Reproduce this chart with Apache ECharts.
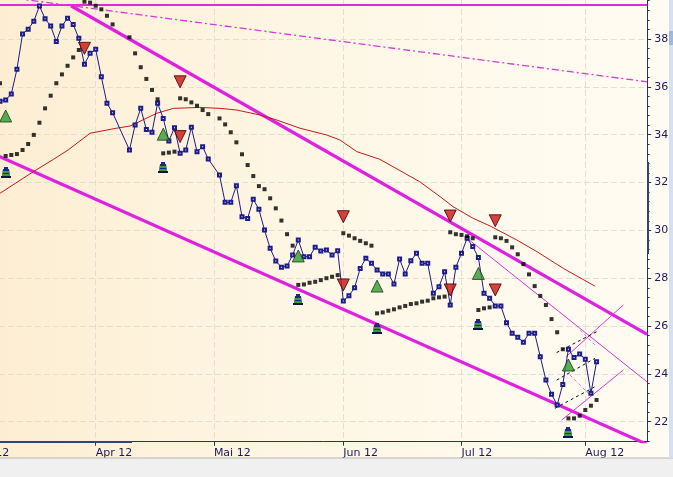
<!DOCTYPE html>
<html><head><meta charset="utf-8">
<script src="https://cdn.jsdelivr.net/npm/echarts@6/dist/echarts.min.js"></script>
<style>html,body{margin:0;padding:0;background:#fff;}#c{width:673px;height:477px;}</style>
</head><body><div id="c"></div>
<script>
// x = weekday index relative to Mon 2 Apr 2012
const monthTicks = [-22, 0, 21, 44, 65, 87];
const monthLabels = ['Mrz 12', 'Apr 12', 'Mai 12', 'Jun 12', 'Jul 12', 'Aug 12'];
const yTicks = [22, 24, 26, 28, 30, 32, 34, 36, 38];

const priceStart = -18;
const price = [35.2, 35.40, 35.45, 35.70, 36.73, 38.21, 38.41, 38.74, 39.38, 38.85, 38.54, 37.89, 38.54, 38.87, 38.61, 38.03, 36.94, 37.40,
  37.57, 36.42, 35.31, 34.92, null, null, 33.36, 34.40, 35.10, 34.22, 34.10, 35.31, 34.68, 33.74, 34.29, 33.22, 33.36, 34.31, 33.29, 33.50, 32.98, null,
  32.31, 31.17, 31.17, 31.87, 30.57, 30.50, 31.30, 30.88, 30.01, 29.25, 28.72, 28.46, 28.51, 28.97, 29.60, 28.90, 28.90, 29.29, 29.14, 29.18, 28.97, 29.15,
  27.05, 27.27, 27.60, 28.41, 28.83, 28.62, 28.34, 28.18, 28.18, 27.76, 28.80, 28.18, 28.73, 29.04, 28.62, 28.62, 27.37, 27.64, 28.27, 26.88, 28.46,
  29.04, 29.67, 29.32, 28.87, 27.37, 27.16, 26.84, 26.84, 26.14, 25.70, 25.53, 25.32, 25.70, 25.70, 24.72, 23.74, 23.15, 22.70, 23.56, 25.03, 24.68, 24.83,
  24.61, 23.19, 24.51];

const sarStart = -17;
const sar = [36.15, 33.11, 33.15, 33.19, 33.36, 33.61, 33.99, 34.50, 35.10, 35.63, 36.15, 36.52, 36.88, 37.23, 37.54, 39.56, 39.52,
  39.39, 39.24, 38.97, 38.61, null, null, 38.07, 37.40, 36.82, 36.33, 35.87, 35.48, 33.22, 33.25, 33.29, 35.52, 35.48, 35.35, 35.21, 35.03, 34.86, null,
  34.68, 34.43, 34.10, 33.68, 33.18, 32.73, 32.27, 31.85, 31.72, 31.34, 30.92, 30.41, 29.84, 29.36, 27.72, 27.74, 27.81, 27.85, 27.92, 28.00, 28.06, 28.13,
  29.88, 29.78, 29.67, 29.56, 29.46, 29.36, 26.53, 26.57, 26.64, 26.70, 26.78, 26.84, 26.92, 26.95, 27.02, 27.06, 27.16, 27.20, 27.23, 29.92, 29.84,
  29.81, 29.75, 29.67, 26.67, 26.74, 26.78, 29.71, 29.67, 29.56, 29.29, 29.00, 28.59, 28.16, 27.67, 27.26, 26.88, 26.29, 25.74, 25.03, 22.14, 22.14, 22.25,
  22.49, 22.67, 22.91];

const maPoints = [[-17, 31.55], [-11.1, 32.45], [-7.5, 32.97], [-4.9, 33.36], [-1, 34.06], [3.7, 34.27], [6.1, 34.36], [10.8, 34.89], [13.8, 35.10],
  [18.5, 35.14], [22.1, 35.10], [25.1, 35.03], [29.2, 34.82], [32.2, 34.61], [36.3, 34.27], [41, 33.99], [43.4, 33.78], [46.4, 33.29], [50.5, 32.97],
  [57.6, 32.03], [61.2, 31.41], [63.5, 30.99], [67.1, 30.50], [70.1, 30.18], [74.8, 29.60], [78.4, 29.11], [83.1, 28.41], [88.7, 27.67]];

const buySignals = [[-16, 34.78], [12, 34.02], [36, 28.93], [50, 27.67], [68, 28.20], [84, 24.37]];
const sellSignals = [[-2, 37.61], [15, 36.21], [15, 33.92], [44, 30.57], [44, 27.72], [63, 30.60], [63, 27.51], [71, 30.40], [71, 27.51]];
const stopMarks = [[-16, 32.41], [12, 32.59], [36, 27.09], [50, 25.86], [68, 26.04], [84, 21.52]];

const resistanceLevel = [[-22, 39.42], [98, 39.42]];
const longTrend = [[-22, 39.94], [98, 36.21]];
const upperChannel = [[-4.39, 39.39], [98, 25.65]];
const lowerChannel = [[-22, 33.60], [98, 21.05]];
const fanDown = [[66, 29.67], [98, 23.66]];
const fanUp1 = [[83.56, 24.71], [93.75, 26.88]];
const fanUp2 = [[82.8, 22.07], [93.75, 24.16]];
const miniUpper = [[81.9, 24.89], [89.0, 25.76]];
const miniMid = [[81.9, 23.74], [88.7, 24.65]];
const miniLower = [[81.6, 22.56], [88.7, 23.46]];
const pinkA = [[86.1, 25.83], [88.7, 25.21]];
const pinkB = [[84.3, 23.95], [87.8, 23.12]];

const Y_MIN = 21.165, Y_MAX = 39.63;
const minorTicks = [];
for (let i = 212; i <= 396; i += 4) { if (i % 20 !== 0) minorTicks.push(i / 10); }

const priceData = price.map((v, i) => [priceStart + i, v]);
const sarData = sar.map((v, i) => v == null ? null : [sarStart + i, v]).filter(d => d);

const axisColor = '#22336e';
const font = 'DejaVu Sans';

function seg(data, color, width, type, z) {
  return { type: 'line', data: data, showSymbol: false, symbol: 'none', silent: true, z: z || 1,
    lineStyle: { color: color, width: width, type: type || 'solid' } };
}

const chart = echarts.init(document.getElementById('c'));
chart.setOption({
  animation: false,
  backgroundColor: { type: 'linear', x: 0, y: 0, x2: 1, y2: 0,
    colorStops: [{ offset: 0, color: '#fdeed3' }, { offset: 0.5, color: '#fef7e6' }, { offset: 1, color: '#fffcf3' }] },
  grid: { left: -28.1, right: 25.8, top: 0, bottom: 35.3, containLabel: false, outerBoundsMode: 'none' },
  xAxis: {
    type: 'value', min: -22, max: 98,
    axisLine: { onZero: false, lineStyle: { color: axisColor, width: 1 } },
    axisTick: { customValues: monthTicks, length: 4, lineStyle: { color: axisColor } },
    axisLabel: { customValues: monthTicks, formatter: v => monthLabels[monthTicks.indexOf(v)] || '',
      align: 'left', color: '#1a1a5a', fontFamily: font, fontSize: 11, margin: 6 },
    splitLine: { show: true, lineStyle: { color: '#e3ded2', type: [6, 3] } }
  },
  yAxis: [{
    type: 'value', position: 'right', min: Y_MIN, max: Y_MAX,
    axisLine: { show: true, onZero: false, lineStyle: { color: axisColor } },
    axisTick: { show: true, customValues: yTicks, length: 4, lineStyle: { color: axisColor } },
    axisLabel: { customValues: yTicks, color: '#1a1a5a', fontFamily: font, fontSize: 11, margin: 7 },
    splitLine: { show: true, lineStyle: { color: '#e3ded2', type: [6, 3] } }
  }, {
    type: 'value', position: 'right', min: Y_MIN, max: Y_MAX,
    axisLine: { show: false, onZero: false },
    axisTick: { show: true, customValues: minorTicks, length: 2.5, lineStyle: { color: axisColor } },
    axisLabel: { show: false }, splitLine: { show: false }
  }],
  graphic: [
    { type: 'rect', shape: { x: 0, y: 458, width: 673, height: 19 }, style: { fill: '#f0f0f0' }, z: 10 },
    { type: 'line', shape: { x1: 0, y1: 458, x2: 673, y2: 458 }, style: { stroke: '#b5b5b5', lineWidth: 1 }, z: 10 },
    { type: 'rect', shape: { x: 669, y: 0, width: 4, height: 458 }, style: { fill: '#d3e1f3' }, z: 10 },
    { type: 'rect', shape: { x: 669, y: 31, width: 4, height: 14 }, style: { fill: '#9cb9e4' }, z: 10 },
    { type: 'line', shape: { x1: 0, y1: 442, x2: 132, y2: 442 }, style: { stroke: '#2a4486', lineWidth: 2 }, z: 10 },
    { type: 'line', shape: { x1: 648, y1: 162, x2: 648, y2: 254 }, style: { stroke: '#2a4486', lineWidth: 2 }, z: 10 }
  ],
  series: [
    seg(resistanceLevel, '#e028e0', 2),
    seg(longTrend, '#d23cd2', 1.3, [7, 3, 2, 3]),
    seg(upperChannel, '#e020e0', 3.2),
    seg(lowerChannel, '#e020e0', 3.2),
    seg(fanDown, '#dd33dd', 1),
    seg(fanUp1, '#dd33dd', 1),
    seg(fanUp2, '#dd33dd', 1),
    seg(pinkA, '#e070e0', 1, [3, 3]),
    seg(pinkB, '#e070e0', 1, [3, 3]),
    seg(miniUpper, '#111', 1, [3, 3]),
    seg(miniMid, '#111', 1, [3, 3]),
    seg(miniLower, '#111', 1, [3, 3]),
    { type: 'line', data: maPoints, showSymbol: false, symbol: 'none', z: 3, silent: true,
      lineStyle: { color: '#c41a1a', width: 1 } },
    { type: 'line', data: priceData, symbol: 'emptyRect', symbolSize: 3, showAllSymbol: true, connectNulls: true, z: 4, silent: true,
      lineStyle: { color: '#1c1c8a', width: 1 }, itemStyle: { color: '#1c1c8a', borderWidth: 1 } },
    { type: 'scatter', data: sarData, symbol: 'rect', symbolSize: 4, z: 5, silent: true, itemStyle: { color: '#000' } },
    { type: 'scatter', data: buySignals, symbol: 'triangle', symbolSize: [12, 12], z: 6, silent: true,
      itemStyle: { color: '#2f9a2f', borderColor: '#1b3b1b', borderWidth: 1 } },
    { type: 'scatter', data: sellSignals, symbol: 'triangle', symbolRotate: 180, symbolSize: [12, 12], z: 6, silent: true,
      itemStyle: { color: '#cc1111', borderColor: '#3a0000', borderWidth: 1 } },
    { type: 'custom', data: stopMarks, z: 6, silent: true,
      renderItem: function (params, api) {
        const p = api.coord([api.value(0), api.value(1)]);
        const x = Math.round(p[0]), y = Math.round(p[1]);
        const navy = '#1a2a80', green = '#3c9a3c';
        return { type: 'group', children: [
          { type: 'rect', shape: { x: x - 2, y: y - 6, width: 4, height: 2 }, style: { fill: navy } },
          { type: 'polygon', shape: { points: [[x - 3, y - 4], [x + 3, y - 4], [x + 4, y + 3], [x - 4, y + 3]] }, style: { fill: navy } },
          { type: 'rect', shape: { x: x - 3, y: y - 2, width: 6, height: 2 }, style: { fill: green } },
          { type: 'rect', shape: { x: x - 4, y: y + 1, width: 8, height: 2 }, style: { fill: green } },
          { type: 'rect', shape: { x: x - 5, y: y + 3, width: 10, height: 2 }, style: { fill: '#0d1440' } }
        ] };
      } }
  ]
});
</script></body></html>
